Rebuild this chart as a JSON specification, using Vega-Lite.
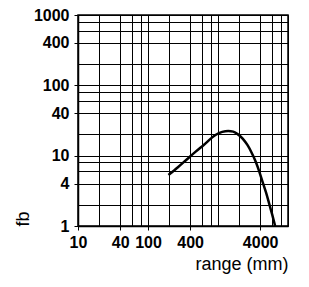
{
  "$schema": "https://vega.github.io/schema/vega-lite/v6.json",
  "width": 210,
  "height": 211,
  "autosize": {"type": "none"},
  "padding": {"left": 78, "top": 15, "right": 21, "bottom": 61},
  "background": "white",
  "config": {
    "view": {"stroke": "black", "strokeWidth": 1.5},
    "axis": {
      "grid": true,
      "gridColor": "black",
      "gridOpacity": 1,
      "gridWidth": 1,
      "domainColor": "black",
      "domainWidth": 1.5,
      "tickColor": "black",
      "tickSize": 4,
      "tickWidth": 1,
      "labelFont": "Liberation Sans",
      "labelFontSize": 16,
      "labelFontWeight": "bold",
      "labelColor": "black",
      "labelOverlap": false,
      "labelFlush": false,
      "titleFont": "Liberation Sans",
      "titleFontWeight": "normal",
      "titleColor": "black",
      "titleFontSize": 18,
      "format": "d"
    }
  },
  "data": {
    "values": [
      {"range": 196, "fb": 5.3},
      {"range": 270, "fb": 6.9},
      {"range": 361, "fb": 8.9},
      {"range": 480, "fb": 11.4},
      {"range": 625, "fb": 14.2},
      {"range": 920, "fb": 19.7},
      {"range": 1150, "fb": 21.8},
      {"range": 1400, "fb": 22.5},
      {"range": 1650, "fb": 22.0},
      {"range": 1888, "fb": 20.4},
      {"range": 2250, "fb": 17.5},
      {"range": 2630, "fb": 14.2},
      {"range": 3000, "fb": 11.2},
      {"range": 3460, "fb": 8.2},
      {"range": 3900, "fb": 5.9},
      {"range": 4320, "fb": 4.27},
      {"range": 4850, "fb": 3.0},
      {"range": 5370, "fb": 2.1},
      {"range": 5950, "fb": 1.45},
      {"range": 6550, "fb": 1.0}
    ]
  },
  "mark": {"type": "line", "color": "black", "strokeWidth": 2.5, "interpolate": "monotone", "clip": true},
  "encoding": {
    "x": {
      "field": "range",
      "type": "quantitative",
      "scale": {"type": "log", "domain": [10, 10000], "nice": false},
      "axis": {
        "title": "range (mm)",
        "titleAnchor": "end",
        "titlePadding": 5,
        "values": [10, 20, 40, 60, 80, 100, 200, 400, 600, 800, 1000, 2000, 4000, 6000, 8000, 10000],
        "labelExpr": "indexof([10,40,100,400,4000], datum.value) >= 0 ? datum.label : ''",
        "tickOpacity": {"condition": {"test": "indexof([10,40,100,400,4000], datum.value) >= 0", "value": 1}, "value": 0},
        "labelPadding": 4
      }
    },
    "y": {
      "field": "fb",
      "type": "quantitative",
      "scale": {"type": "log", "domain": [1, 1000], "nice": false},
      "axis": {
        "title": "fb",
        "titleAnchor": "start",
        "titlePadding": 1,
        "values": [1, 2, 4, 6, 8, 10, 20, 40, 60, 80, 100, 200, 400, 600, 800, 1000],
        "labelExpr": "indexof([1,4,10,40,100,400,1000], datum.value) >= 0 ? datum.label : ''",
        "tickOpacity": {"condition": {"test": "indexof([1,4,10,40,100,400,1000], datum.value) >= 0", "value": 1}, "value": 0},
        "labelPadding": 5
      }
    }
  }
}
